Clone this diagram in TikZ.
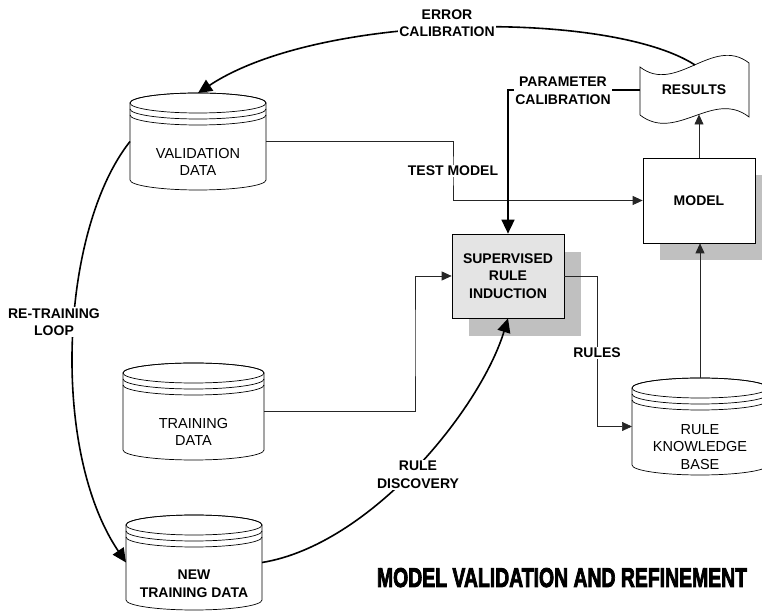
\documentclass[tikz,border=0pt]{standalone}
\usepackage{fontspec}
\usepackage{graphicx}
\setmainfont{Liberation Sans}
\newfontfamily\titlefont[FakeBold=3.5]{Liberation Sans}
\usetikzlibrary{arrows.meta,shadows}
\definecolor{boxgray}{HTML}{E4E4E4}
\definecolor{shadowgray}{HTML}{C0C0C0}

% database drum: #1 name, #2 centre x, #3 top y, #4 half width, #5 height, #6 text style, #7 text
\newcommand\dbdrum[7]{%
  \node[drumbody, minimum width={2*#4pt}, minimum height={#5pt}] (#1) at (#2,#3-#5/2) {};
  \filldraw[outline, fill=white] (#2-#4,#3-10) -- (#2-#4,#3-#5+10)
    arc[start angle=180, end angle=360, x radius=#4pt, y radius=10pt]
    -- (#2+#4,#3-10)
    arc[start angle=0, end angle=180, x radius=#4pt, y radius=10pt] -- cycle;
  \draw[outline] (#2,#3-10) ellipse[x radius=#4pt, y radius=10pt];
  \draw[outline] (#2-#4,#3-16) arc[start angle=180, end angle=360, x radius=#4pt, y radius=10pt];
  \draw[outline] (#2-#4,#3-22) arc[start angle=180, end angle=360, x radius=#4pt, y radius=10pt];
  \node[#6] (#1-t) at (#2,#3-69) {#7};
}

\begin{document}
\begin{tikzpicture}[x=1pt, y=1pt,
  outline/.style={draw=black, line width=0.7pt},
  drumbody/.style={rectangle, inner sep=0pt, outer sep=0pt},
  drumtxt/.style={align=center, font=\fontsize{14.5}{17.5}\selectfont},
  drumbold/.style={align=center, font=\fontsize{14}{17.5}\selectfont\bfseries},
  lbl/.style={align=center, font=\fontsize{14}{17.5}\selectfont\bfseries, fill=white, inner sep=1.5pt},
  procbox/.style={draw=black, line width=0.7pt, minimum width=112pt, inner sep=0pt,
    align=center, font=\fontsize{14}{17.5}\selectfont\bfseries},
  thinarr/.style={draw=black!85, line width=0.7pt, -{Triangle[length=10pt, width=9pt]}},
  thickarr/.style={draw=black, line width=1.6pt, -{Triangle[length=14pt, width=13pt]}}
]
\useasboundingbox (0,0) rectangle (762,612);
\clip (0,0) rectangle (762,612);

% data stores
\dbdrum{val}{198}{519}{68}{97}{drumtxt}{VALIDATION\\DATA}
\dbdrum{train}{193.5}{249}{70.5}{97}{drumtxt}{TRAINING\\DATA}
\dbdrum{newtrain}{194}{97}{68}{95}{drumbold}{NEW\\TRAINING DATA}
\dbdrum{rkb}{700}{234}{68}{97}{drumtxt}{RULE\\KNOWLEDGE\\BASE}

% process boxes with offset shadows
\node[procbox, minimum height=84pt, fill=boxgray,
  drop shadow={shadow xshift=17pt, shadow yshift=-18pt, fill=shadowgray, opacity=1}]
  (sri) at (508,336) {SUPERVISED\\RULE\\INDUCTION};
\node[procbox, minimum height=85pt, fill=white,
  drop shadow={shadow xshift=17pt, shadow yshift=-17pt, fill=shadowgray, opacity=1}]
  (model) at (699,411.5) {MODEL};

% results document (tape outline)
\filldraw[outline, fill=white] (640,545) .. controls (676,517) and (713,577) .. (749,549)
  -- (749,495) .. controls (713,523) and (676,469) .. (640,497) -- cycle;
\node[drumbold] (results) at (694,522) {RESULTS};
\coordinate (resTop) at (695,547);
\coordinate (resBot) at (699,497.5);
\coordinate (resL) at (640,522);

% bend points of the orthogonal connectors
\coordinate (tm) at (453,441);
\coordinate (trk) at (415,270);
\coordinate (rk) at (597,259);

% thin connectors
\draw[thinarr] (val.east) -| (tm) |- (model.west);
\draw[thinarr] (train.east) -| (trk) |- (sri.west);
\draw[thinarr] (sri.east) -| (rk) |- (rkb.west);
\draw[thinarr] (rkb.north) -- (rkb.north |- model.south);
\draw[thinarr] (model.north) -- (resBot);

% heavy feedback connectors
\draw[thickarr] (resL) -| (sri.north);
\draw[thickarr] (resTop) .. controls (610,602) and (320,600) .. (val.north);
\draw[thickarr] (val.west) .. controls (60,382) and (50,162) .. (newtrain.west);
\draw[thickarr] (newtrain.east) .. controls (370,67) and (480,202) .. (sri.south);

% connector labels
\node[lbl] (errlbl) at (447,589) {ERROR\\CALIBRATION};
\node[lbl] (parlbl) at (563,521) {PARAMETER\\CALIBRATION};
\node[lbl] (tmlbl) at (tm) {TEST MODEL};
\node[lbl] (rulelbl) at (rk) {RULES};
\node[lbl] (disclbl) at (418,137) {RULE\\DISCOVERY};
\node[lbl] (looplbl) at (54,290) {RE-TRAINING\\LOOP};

% title
\node[anchor=base, inner sep=0pt] (title) at (562,25)
  {\resizebox{370pt}{19pt}{\titlefont\bfseries MODEL VALIDATION AND REFINEMENT}};
\end{tikzpicture}
\end{document}
